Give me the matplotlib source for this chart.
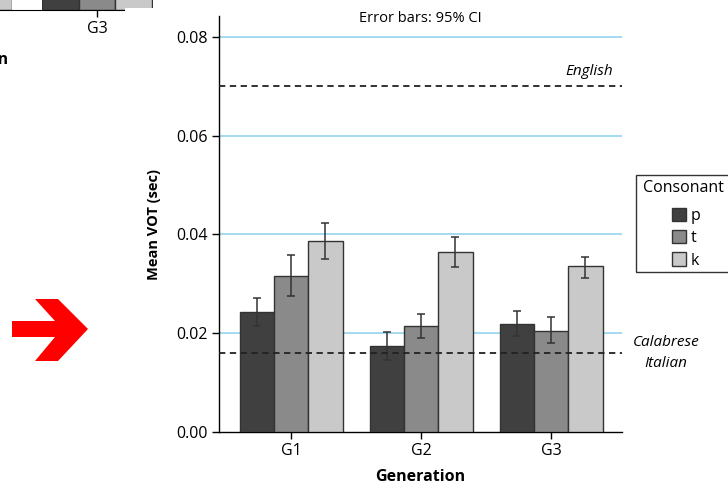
import numpy as np
import matplotlib
matplotlib.use("Agg")
import matplotlib.pyplot as plt
from matplotlib.patches import Polygon, Rectangle, Patch

plt.rcParams['font.family'] = ['Open Sans', 'DejaVu Sans']

W, H = 728, 486

# data
generations = ["G1", "G2", "G3"]
consonants = ["p", "t", "k"]
mean_p = [0.0243, 0.0174, 0.0219]
mean_t = [0.0316, 0.0215, 0.0205]
mean_k = [0.0387, 0.0364, 0.0335]
lo_p = [0.0215, 0.0146, 0.0194]
hi_p = [0.0271, 0.0202, 0.0245]
lo_t = [0.0275, 0.0190, 0.0180]
hi_t = [0.0359, 0.0238, 0.0232]
lo_k = [0.0350, 0.0334, 0.0312]
hi_k = [0.0424, 0.0394, 0.0355]
english_vot = 0.070
calabrese_vot = 0.016
yticks = [0.00, 0.02, 0.04, 0.06, 0.08]

# fragment of the neighbouring chart (only the bottom is visible)
frag_pos = [1.264, 1.736, 2.0, 2.264]
frag_vals = [0.05, 0.05, 0.05, 0.05]

colors = ['#404040', '#8a8a8a', '#c9c9c9']
edge = '#333333'
grid_blue = '#8cd0ea'


def px(x, y):
    return x / W, 1 - y / H


fig = plt.figure(figsize=(W / 100, H / 100), dpi=100)

# main chart
ax = fig.add_axes([219 / W, 1 - 432 / H, (622 - 219) / W, (432 - 16) / H])
x = np.arange(len(generations))
bw = 0.264
means = [mean_p, mean_t, mean_k]
los = [lo_p, lo_t, lo_k]
his = [hi_p, hi_t, hi_k]
for i, (m, lo, hi) in enumerate(zip(means, los, his)):
    m = np.array(m)
    err = [m - np.array(lo), np.array(hi) - m]
    ax.bar(x + (i - 1) * bw, m, bw, color=colors[i], edgecolor=edge,
           linewidth=1.0, zorder=3)
    ax.errorbar(x + (i - 1) * bw, m, yerr=err, fmt='none', ecolor='#333333',
                elinewidth=1.1, capsize=3, capthick=1.1, zorder=4)

for yv in yticks[1:]:
    ax.axhline(yv, color=grid_blue, lw=1.1, zorder=1)

ax.axhline(english_vot, color='#222222', lw=1.3, ls=(0, (3.5, 2.5)), zorder=5)
ax.axhline(calabrese_vot, color='#222222', lw=1.3, ls=(0, (3.5, 2.5)), zorder=5)
ax.text(0.978, english_vot + 0.003, "English", style='italic', fontsize=11,
        ha='right', va='center', transform=ax.get_yaxis_transform())
ax.text(1.109, calabrese_vot, "Calabrese\nItalian", style='italic', fontsize=11,
        ha='center', va='center', linespacing=1.55,
        transform=ax.get_yaxis_transform(), clip_on=False)
ax.text(0.5, 0.994, "Error bars: 95% CI", fontsize=10.5, ha='center', va='center',
        transform=ax.transAxes)

ax.set_xlim(-0.554, 2.546)
ax.set_ylim(0, 0.0842)
ax.set_yticks(yticks)
ax.set_yticklabels([f"{v:.2f}" for v in yticks])
ax.set_xticks(x)
ax.set_xticklabels(generations)
ax.tick_params(axis='both', direction='out', length=5, width=1, labelsize=11.5, pad=3)
for s in ['top', 'right']:
    ax.spines[s].set_visible(False)
for s in ['left', 'bottom']:
    ax.spines[s].set_linewidth(1)
ax.set_xlabel("Generation", fontsize=11.5, fontweight='bold', labelpad=7)
ax.set_ylabel("Mean VOT (sec)", fontsize=10.5, fontweight='bold', labelpad=11)

# legend with framed title
fig.patches.append(Rectangle(px(636, 272), 110 / W, (272 - 175) / H,
                             transform=fig.transFigure, fill=False,
                             edgecolor='#333333', lw=1))
fig.text(*px(643, 188), "Consonant", fontsize=11.5, ha='left', va='center')
handles = [Patch(facecolor=c, edgecolor=edge, lw=1) for c in colors]
fig.legend(handles, consonants, loc='upper left', bbox_to_anchor=px(664, 200),
           frameon=False, fontsize=11.5, borderpad=0, handlelength=0.85,
           handleheight=0.9, labelspacing=0.38, handletextpad=0.3)

# fragment of the previous panel
fa = fig.add_axes([0, 1 - 10 / H, 153 / W, 0.05])
fa.bar(frag_pos, frag_vals, 0.264, color=['#c9c9c9'] + colors,
       edgecolor=edge, linewidth=1.0)
fa.bar([1.5], [0.05], 0.208, color='white', edgecolor='none')
fa.set_xlim(2 - 97 / 140, 2 + 56 / 140)
fa.set_ylim(0, 0.001)
fa.set_xticks([2])
fa.set_xticklabels(["G3"])
fa.set_yticks([])
fa.tick_params(axis='x', direction='out', length=5, width=1, labelsize=11.5, pad=3)
for s in ['top', 'right', 'left']:
    fa.spines[s].set_visible(False)
fig.patches.append(Rectangle(px(125, 20), 40 / W, 12 / H,
                             transform=fig.transFigure, facecolor='white',
                             edgecolor='none', zorder=10))
fig.text(*px(8, 60), "Generation", fontsize=11.5, fontweight='bold',
         ha='right', va='center')

# red arrow
arrow_px = [(12, 321), (55, 321), (35, 299), (58, 299), (88, 329),
            (58, 361), (35, 361), (55, 337), (12, 337)]
fig.patches.append(Polygon([px(a, b) for a, b in arrow_px], closed=True,
                           transform=fig.transFigure, facecolor='#ff0000',
                           edgecolor='none'))

fig.savefig("out.png", dpi=100)
